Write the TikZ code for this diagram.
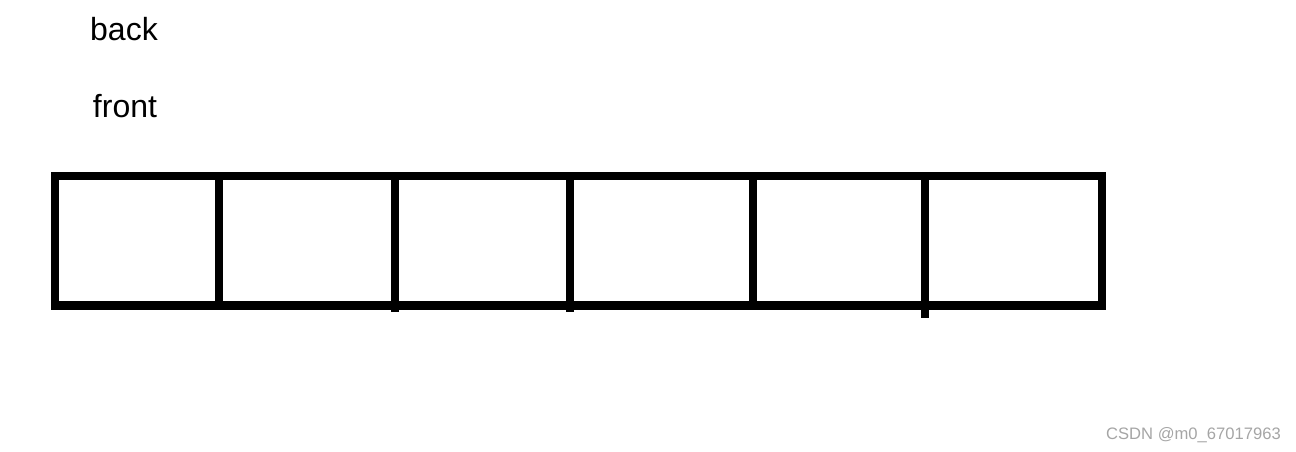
\documentclass[tikz,border=0pt]{standalone}
\usepackage{fontspec}
\setmainfont{Liberation Sans}
\definecolor{wmgray}{RGB}{165,165,165}
\tikzset{
  boxline/.style={line width=8.5pt, line cap=butt, line join=miter},
  label/.style={font=\fontsize{32}{32}\selectfont, inner sep=0pt, anchor=center},
  watermark/.style={font=\fontsize{16.6}{17}\selectfont, text=wmgray, inner sep=0pt, anchor=center}
}
\begin{document}
\begin{tikzpicture}[x=1pt,y=-1pt]
\useasboundingbox (0,0) rectangle (1296,452);
\node[label] (back) at (124,29) {back};
\node[label] (front) at (125,106) {front};
\draw[boxline] (55,176) rectangle (1102,305.5);
\draw[boxline] (219,176) -- (219,305.5);
\draw[boxline] (395,176) -- (395,311.7);
\draw[boxline] (570,176) -- (570,311.7);
\draw[boxline] (753,176) -- (753,305.5);
\draw[boxline] (925,176) -- (925,317.7);
\node[watermark] (wm) at (1193.5,435.5) {CSDN @m0\_67017963};
\end{tikzpicture}
\end{document}
